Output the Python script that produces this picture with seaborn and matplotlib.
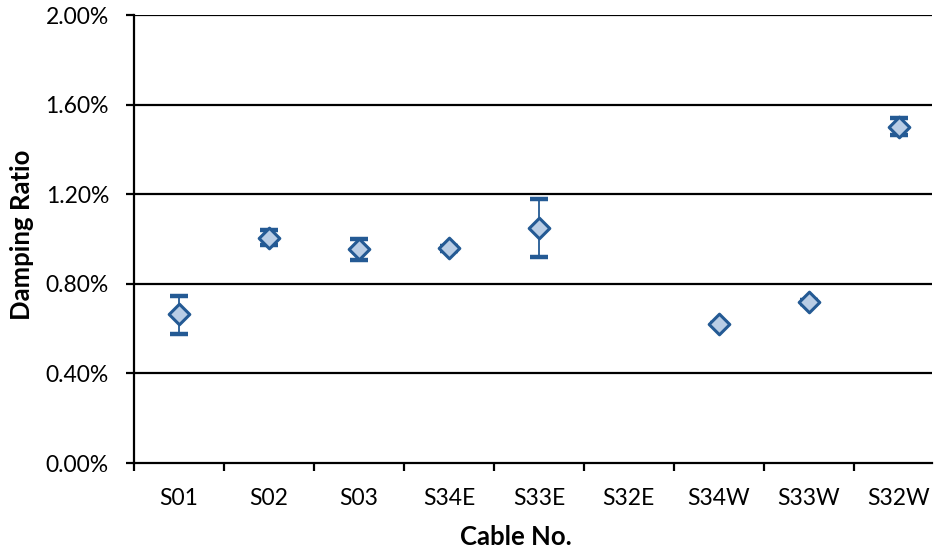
#!/usr/bin/env python3
#
# Damping ratio per cable - diamonds with error bars
#
import numpy as np
import pandas as pd
import matplotlib
matplotlib.use('Agg')
import matplotlib.pyplot as plt
from matplotlib.ticker import PercentFormatter, FixedLocator
import seaborn as sns

# Data (damping ratio in %) {{{
cables = ['S01', 'S02', 'S03', 'S34E', 'S33E', 'S32E', 'S34W', 'S33W', 'S32W']
ratio = [0.663, 1.006, 0.955, 0.958, 1.048, np.nan, 0.620, 0.720, 1.502]
err_lo = [0.087, 0.034, 0.047, 0.012, 0.130, np.nan, 0.004, 0.008, 0.038]
err_hi = [0.083, 0.035, 0.044, 0.012, 0.129, np.nan, 0.004, 0.008, 0.037]
yticks = [0.0, 0.4, 0.8, 1.2, 1.6, 2.0]
# }}}

edge = '#245a94'
fill = '#b9cde5'

sns.set_theme(style='white')
plt.rcParams['font.family'] = ['Lato', 'DejaVu Sans']

df = pd.DataFrame({'cable': cables, 'ratio': ratio})

fig = plt.figure(figsize=(9.35, 5.54), dpi=100)
ax = fig.add_axes([134 / 935, 1 - 463 / 554, 798 / 935, 448 / 554])

# Error bars behind the markers
pos = np.arange(len(cables))
ax.errorbar(pos, ratio, yerr=[err_lo, err_hi], fmt='none', ecolor=edge,
            elinewidth=1.3, capsize=6.5, capthick=3.2, zorder=2)

sns.stripplot(data=df, x='cable', y='ratio', order=cables, jitter=False,
              marker='D', size=10.5, color=fill, edgecolor=edge, linewidth=2.2,
              ax=ax, zorder=3)

# Axes
ax.set_xlim(-0.5, 8.37)
ax.set_ylim(0, 2.0)
ax.set_yticks(yticks)
ax.yaxis.set_major_formatter(PercentFormatter(xmax=100, decimals=2))
ax.grid(False)
for y in yticks[1:]:
    ax.axhline(y, color='black', linewidth=1.6, zorder=1)

for side in ('top', 'right'):
    ax.spines[side].set_visible(False)
for side in ('left', 'bottom'):
    ax.spines[side].set_color('black')
    ax.spines[side].set_linewidth(1.6)

ax.set_xticks(pos)
ax.set_xticklabels(cables)
ax.xaxis.set_minor_locator(FixedLocator(np.arange(-0.5, 8.0, 1.0)))
ax.tick_params(axis='x', which='major', length=0, pad=18, labelsize=16.5,
               colors='black')
ax.tick_params(axis='x', which='minor', bottom=True, length=6, width=1.6,
               color='black')
ax.tick_params(axis='y', which='major', left=True, length=6, width=1.6,
               pad=12, labelsize=16.5, color='black', labelcolor='black')

ax.set_xlabel('Cable No.', fontsize=18.5, fontweight='bold', color='black',
              va='center')
ax.set_ylabel('Damping Ratio', fontsize=18.5, fontweight='bold',
              color='black', va='center')
ax.xaxis.set_label_coords(0.478, -0.165)
ax.yaxis.set_label_coords(-0.140, 0.509)

fig.savefig('out.png', dpi=100, facecolor='white')
